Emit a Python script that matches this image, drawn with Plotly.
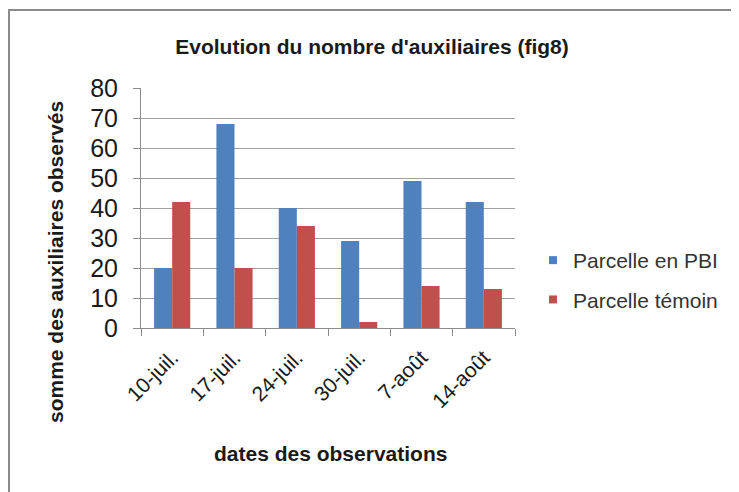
import plotly.graph_objects as go

categories = ["10-juil.", "17-juil.", "24-juil.", "30-juil.", "7-août", "14-août"]
pbi_values = [20, 68, 40, 29, 49, 42]
temoin_values = [42, 20, 34, 2, 14, 13]
series_names = ["Parcelle en PBI", "Parcelle témoin"]
series_colors = ["#4F81BD", "#C0504D"]
y_ticks = [0, 10, 20, 30, 40, 50, 60, 70, 80]

# the page body has an 8px margin: the figure is laid out in page coordinates minus OFF
OFF = 8
W, H = 739 - OFF, 492 - OFF
L, R, T, B = 141, 515, 88, 328  # plot area in page pixels

def px(x):
    return (x - L) / (R - L)

def py(y):
    return (B - y) / (B - T)

FONT = "Liberation Sans, Arial, sans-serif"
TXT = "#1a1a1a"

fig = go.Figure()
for name, vals, col, grp in zip(series_names, [pbi_values, temoin_values], series_colors, ["a", "b"]):
    fig.add_trace(go.Bar(x=categories, y=vals, name=name,
                         marker=dict(color=col, line=dict(width=0)),
                         legendgroup=grp, showlegend=False))
# small square legend keys (Excel style)
for name, col, grp in zip(series_names, series_colors, ["a", "b"]):
    fig.add_trace(go.Scatter(x=[None], y=[None], mode="markers", name=name,
                             marker=dict(symbol="square", size=8, color=col),
                             legendgroup=grp, showlegend=True))

fig.update_layout(
    width=W, height=H,
    margin=dict(l=L - OFF, r=W - (R - OFF), t=T - OFF, b=H - (B - OFF), autoexpand=False),
    paper_bgcolor="white", plot_bgcolor="white",
    barmode="group", bargap=0.42, bargroupgap=0,
    font=dict(family=FONT, color=TXT),
    title=dict(text="<b>Evolution du nombre d'auxiliaires (fig8)</b>",
               x=(372 - OFF) / W, xanchor="center", y=(H - (47 - OFF)) / H, yanchor="middle",
               font=dict(size=21, color=TXT, family=FONT)),
    showlegend=True,
    legend=dict(x=px(533), xanchor="left", y=py(240), yanchor="top",
                font=dict(size=21, color="#333333", family=FONT),
                traceorder="grouped", tracegroupgap=9,
                bgcolor="rgba(0,0,0,0)"),
    xaxis=dict(type="category", showline=True, linecolor="#8c8c8c", linewidth=1,
               ticks="outside", tickson="boundaries", ticklen=7, tickcolor="#8c8c8c",
               tickangle=-45, tickfont=dict(size=21, color=TXT, family=FONT),
               ticklabelstandoff=8, showgrid=False),
    yaxis=dict(range=[0, 80], tickvals=y_ticks, showline=True, linecolor="#8c8c8c",
               linewidth=1, ticks="outside", ticklen=7, tickcolor="#8c8c8c",
               showgrid=True, gridcolor="#a0a0a0", gridwidth=1, zeroline=False,
               tickfont=dict(size=25, color=TXT, family=FONT),
               ticklabelstandoff=10),
    annotations=[
        dict(text="<b>somme des auxiliaires observés</b>", textangle=-90,
             x=px(55), y=py(262), xref="paper", yref="paper",
             showarrow=False, xanchor="center", yanchor="middle",
             font=dict(size=21, color=TXT, family=FONT)),
        dict(text="<b>dates des observations</b>",
             x=px(330), y=py(453), xref="paper", yref="paper",
             showarrow=False, xanchor="center", yanchor="middle",
             font=dict(size=21, color=TXT, family=FONT)),
    ],
    shapes=[
        dict(type="rect", xref="paper", yref="paper",
             x0=px(9), x1=px(737), y0=py(560), y1=py(10),
             line=dict(color="#8a8a8a", width=2), fillcolor="rgba(0,0,0,0)",
             layer="below"),
    ],
)

fig.write_html("out.html")
